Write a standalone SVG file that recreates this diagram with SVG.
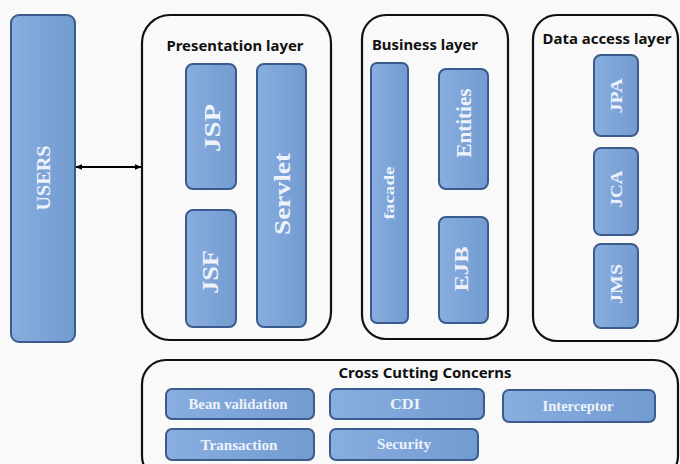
<svg xmlns="http://www.w3.org/2000/svg" width="680" height="464" viewBox="0 0 680 464">
<defs>
<linearGradient id="bg" x1="0" y1="0" x2="1" y2="0">
<stop offset="0" stop-color="#89aee0"/><stop offset="1" stop-color="#729bd0"/>
</linearGradient>
<marker id="ah" viewBox="0 0 10 10" refX="9" refY="5" markerWidth="7" markerHeight="7" orient="auto-start-reverse" markerUnits="userSpaceOnUse">
<path d="M0,1 L10,5 L0,9 z" fill="#000"/>
</marker>
</defs>
<style>
.box{fill:url(#bg);stroke:#3b5b8c;stroke-width:2}
.layer{fill:none;stroke:#111;stroke-width:2.2}
.t{font-family:"Liberation Serif",serif;font-weight:bold;fill:#eef3fb;text-anchor:middle;dominant-baseline:central}
.h{font-family:"Noto Sans","Open Sans",sans-serif;font-weight:bold;fill:#111;font-size:14.5px;text-anchor:middle}
</style>
<rect width="680" height="464" fill="#f9f9f9"/>
<g id="users">
<rect class="box" x="11" y="15" width="64" height="327" rx="8"/>
<text class="t" font-size="19" textLength="65" lengthAdjust="spacingAndGlyphs" transform="translate(43,178) rotate(-90)">USERS</text>
</g>
<g id="presentation">
<rect class="layer" x="142" y="15" width="189" height="325" rx="28"/>
<text class="h" x="235" y="51" textLength="137" lengthAdjust="spacingAndGlyphs">Presentation layer</text>
</g>
<g id="jsp">
<rect class="box" x="186" y="64" width="50" height="125" rx="7"/>
<text class="t" font-size="24" textLength="48" lengthAdjust="spacingAndGlyphs" transform="translate(212,128) rotate(-90)">JSP</text>
</g>
<g id="servlet">
<rect class="box" x="257" y="64" width="49" height="263" rx="7"/>
<text class="t" font-size="24" textLength="82" lengthAdjust="spacingAndGlyphs" transform="translate(282,194) rotate(-90)">Servlet</text>
</g>
<g id="jsf">
<rect class="box" x="186" y="210" width="50" height="117" rx="7"/>
<text class="t" font-size="24" textLength="44" lengthAdjust="spacingAndGlyphs" transform="translate(210,272) rotate(-90)">JSF</text>
</g>
<g id="business">
<rect class="layer" x="362" y="15" width="146" height="324" rx="24"/>
<text class="h" x="425" y="50" textLength="106" lengthAdjust="spacingAndGlyphs">Business layer</text>
</g>
<g id="facade">
<rect class="box" x="371" y="63" width="37" height="260" rx="6"/>
<text class="t" font-size="15" textLength="53" lengthAdjust="spacingAndGlyphs" transform="translate(389,193) rotate(-90)">facade</text>
</g>
<g id="entities">
<rect class="box" x="439" y="69" width="49" height="120" rx="7"/>
<text class="t" font-size="20" textLength="69" lengthAdjust="spacingAndGlyphs" transform="translate(464,123) rotate(-90)">Entities</text>
</g>
<g id="ejb">
<rect class="box" x="439" y="217" width="49" height="106" rx="7"/>
<text class="t" font-size="18" textLength="45" lengthAdjust="spacingAndGlyphs" transform="translate(462,269) rotate(-90)">EJB</text>
</g>
<g id="dataaccess">
<rect class="layer" x="533" y="15" width="145" height="326" rx="24"/>
<text class="h" x="607" y="44" textLength="129" lengthAdjust="spacingAndGlyphs">Data access layer</text>
</g>
<g id="jpa">
<rect class="box" x="594" y="55" width="44" height="81" rx="7"/>
<text class="t" font-size="16" textLength="35" lengthAdjust="spacingAndGlyphs" transform="translate(616,96) rotate(-90)">JPA</text>
</g>
<g id="jca">
<rect class="box" x="594" y="148" width="44" height="87" rx="7"/>
<text class="t" font-size="16" textLength="37" lengthAdjust="spacingAndGlyphs" transform="translate(616,189) rotate(-90)">JCA</text>
</g>
<g id="jms">
<rect class="box" x="594" y="244" width="44" height="84" rx="7"/>
<text class="t" font-size="16" textLength="40" lengthAdjust="spacingAndGlyphs" transform="translate(616,284) rotate(-90)">JMS</text>
</g>
<g id="crosscutting">
<rect class="layer" x="142" y="360" width="536" height="120" rx="24"/>
<text class="h" x="425" y="378" textLength="173" lengthAdjust="spacingAndGlyphs">Cross Cutting Concerns</text>
</g>
<g id="beanvalidation">
<rect class="box" x="166" y="389" width="148" height="30" rx="6"/>
<text class="t" font-size="14" x="238" y="404" textLength="99" lengthAdjust="spacingAndGlyphs">Bean validation</text>
</g>
<g id="cdi">
<rect class="box" x="330" y="389" width="154" height="30" rx="6"/>
<text class="t" font-size="14" x="405" y="404" textLength="30" lengthAdjust="spacingAndGlyphs">CDI</text>
</g>
<g id="interceptor">
<rect class="box" x="503" y="390" width="152" height="32" rx="6"/>
<text class="t" font-size="14" x="578" y="406" textLength="71" lengthAdjust="spacingAndGlyphs">Interceptor</text>
</g>
<g id="transaction">
<rect class="box" x="166" y="429" width="148" height="31" rx="6"/>
<text class="t" font-size="14" x="239" y="445" textLength="77" lengthAdjust="spacingAndGlyphs">Transaction</text>
</g>
<g id="security">
<rect class="box" x="330" y="429" width="148" height="31" rx="6"/>
<text class="t" font-size="14" x="404" y="444" textLength="54" lengthAdjust="spacingAndGlyphs">Security</text>
</g>
<g id="connectors">
<line x1="76" y1="167" x2="141" y2="167" stroke="#000" stroke-width="2" marker-start="url(#ah)" marker-end="url(#ah)"/>
</g>
</svg>
